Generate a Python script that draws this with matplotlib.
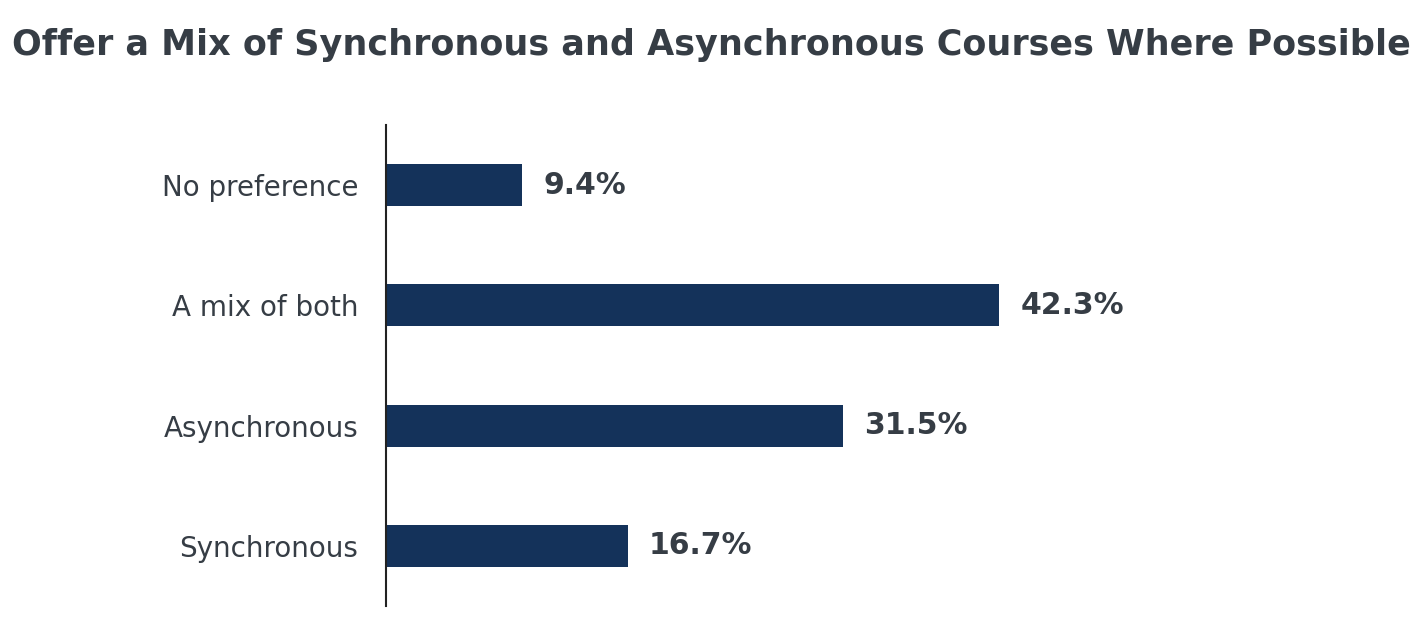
import matplotlib
matplotlib.use("Agg")
import matplotlib.pyplot as plt

plt.rcParams['font.family'] = ['DejaVu Sans']

# data
categories = ['Synchronous', 'Asynchronous', 'A mix of both', 'No preference']
values = [16.7, 31.5, 42.3, 9.4]
value_labels = ['16.7%', '31.5%', '42.3%', '9.4%']

bar_color = '#14325a'
text_color = '#363d45'

fig = plt.figure(figsize=(14.22, 6.4), dpi=100)
ax = fig.add_axes([386 / 1422, 1 - 606 / 640, 1014 / 1422, 481 / 640])

pos = range(len(categories))
ax.barh(pos, values, height=0.35, color=bar_color)

for p, v, lab in zip(pos, values, value_labels):
    ax.annotate(lab, (v, p), xytext=(15, 0), textcoords='offset points',
                va='center', ha='left', fontsize=21.5, fontweight='bold',
                color=text_color)

ax.set_xlim(0, 1014 / 14.5)
ax.set_ylim(-0.5, 3.5)
ax.set_yticks(list(pos))
ax.set_yticklabels(categories, fontsize=20, color=text_color)
ax.tick_params(axis='y', length=0, pad=20)
ax.set_xticks([])
for s in ['top', 'right', 'bottom']:
    ax.spines[s].set_visible(False)
ax.spines['left'].set_color('#222222')
ax.spines['left'].set_linewidth(1.5)

fig.text(0.5, 1 - 45 / 640, 'Offer a Mix of Synchronous and Asynchronous Courses Where Possible',
         ha='center', va='center', fontsize=25.2, fontweight='bold', color=text_color)

fig.savefig('out.png', dpi=100)
